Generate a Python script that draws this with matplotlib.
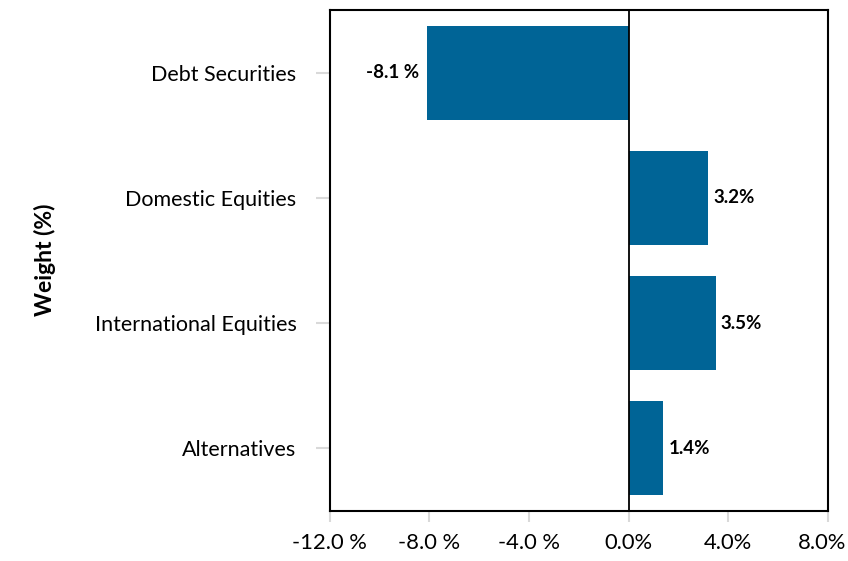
import matplotlib
matplotlib.use("Agg")
import matplotlib.pyplot as plt
import matplotlib.transforms as mtransforms
from matplotlib.ticker import FuncFormatter

categories = ["Debt Securities", "Domestic Equities", "International Equities", "Alternatives"]
values = [-8.1, 3.2, 3.5, 1.4]
value_labels = ["-8.1 %", "3.2%", "3.5%", "1.4%"]
xticks = [-12, -8, -4, 0, 4, 8]

plt.rcParams['font.family'] = ['Lato', 'DejaVu Sans']

fig = plt.figure(figsize=(8.48, 5.61), dpi=100)
ax = fig.add_axes([0.389, 0.089, 0.587, 0.893])

color = "#006496"
ypos = list(range(len(categories)))
ax.barh(ypos, values, height=0.75, color=color, zorder=2)
ax.axvline(0, color="black", lw=1.3, zorder=3)

ax.set_ylim(len(categories) - 0.5, -0.5)
ax.set_xlim(-12, 8)
ax.set_yticks(ypos)
ax.set_yticklabels(categories, fontsize=15.5)
ax.set_xticks(xticks)

def fmt(v, pos):
    if v < 0:
        return f"{v:.1f} %"
    return f"{v:.1f}%"
ax.xaxis.set_major_formatter(FuncFormatter(fmt))
ax.tick_params(axis='x', labelsize=15.8, length=8, color="#d9d9d9", width=1.5, pad=8)
ax.tick_params(axis='y', length=10, color="#d9d9d9", width=1.5, pad=14)

for s in ax.spines.values():
    s.set_linewidth(1.5)
    s.set_color("black")

for y, v, lab in zip(ypos, values, value_labels):
    if v < 0:
        ax.text(v - 0.3, y, lab, ha="right", va="center", fontsize=13.5, fontweight="bold")
    else:
        ax.text(v + 0.2, y, lab, ha="left", va="center", fontsize=13.5, fontweight="bold")

fig.text(0.053, 0.537, "Weight (%)", rotation=90, ha="center", va="center",
         fontsize=16.5, fontweight="bold")

fig.canvas.draw()
last = ax.get_xticklabels()[-1]
last.set_transform(last.get_transform() + mtransforms.ScaledTranslation(-0.06, 0, fig.dpi_scale_trans))

fig.savefig("out.png", dpi=100)
